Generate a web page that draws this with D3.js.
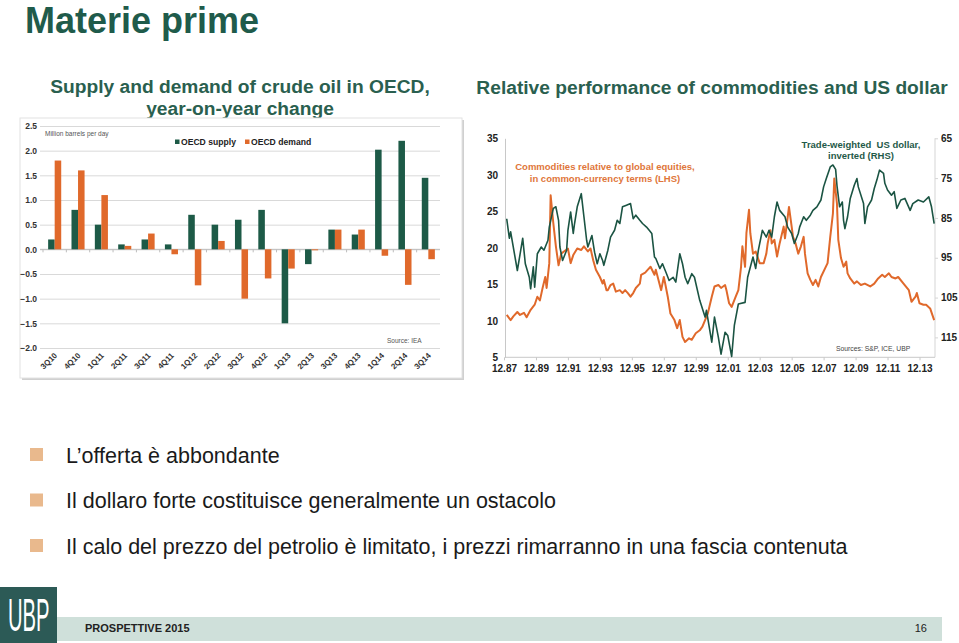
<!DOCTYPE html>
<html><head><meta charset="utf-8">
<script src="https://cdn.jsdelivr.net/npm/d3@7"></script>
<style>
html,body{margin:0;padding:0;background:#fff;}
svg{display:block;font-family:"Liberation Sans",Arial,sans-serif;}
</style></head>
<body>
<svg id="c" width="959" height="643"></svg>
<script>
// ---------- DATA ----------
const quarters = ["3Q10","4Q10","1Q11","2Q11","3Q11","4Q11","1Q12","2Q12","3Q12","4Q12","1Q13","2Q13","3Q13","4Q13","1Q14","2Q14","3Q14"];
const oecdSupply = [0.2,0.8,0.5,0.1,0.2,0.1,0.7,0.5,0.6,0.8,-1.5,-0.3,0.4,0.3,2.02,2.2,1.45];
const oecdDemand = [1.8,1.6,1.1,0.07,0.32,-0.1,-0.73,0.17,-1.0,-0.59,-0.39,-0.02,0.4,0.4,-0.13,-0.72,-0.2];
const barYTicks = [-2,-1.5,-1,-0.5,0,0.5,1,1.5,2,2.5];
const barSeries = ["OECD supply","OECD demand"];

// Commodities relative to global equities (LHS)
const commodities = [
["1988-02",10.8],["1988-05",10.1],["1988-07",10.6],["1988-10",11.2],["1988-12",10.8],["1989-03",11.1],["1989-05",10.5],
["1989-08",11.5],["1989-11",12.2],["1990-01",13.3],["1990-03",12.8],["1990-05",14.5],["1990-07",16.0],["1990-08",14.5],
["1990-10",17.9],["1990-11",27.2],["1991-01",23.4],["1991-03",20.2],["1991-05",17.6],["1991-07",19.2],["1991-09",19.5],
["1991-12",19.9],["1992-02",17.9],["1992-04",19.0],["1992-07",19.9],["1992-10",19.7],["1992-12",20.2],["1993-03",19.5],
["1993-05",19.9],["1993-07",18.3],["1993-09",17.0],["1993-12",16.0],["1994-02",15.1],["1994-03",15.6],["1994-05",14.2],
["1994-06",14.2],["1994-08",14.9],["1994-10",15.1],["1994-12",14.0],["1995-03",14.2],["1995-05",13.8],["1995-07",14.2],
["1995-09",13.8],["1995-11",13.3],["1996-01",13.8],["1996-03",14.5],["1996-06",15.1],["1996-07",16.3],["1996-10",16.6],
["1996-12",17.0],["1997-02",17.4],["1997-05",16.3],["1997-06",17.0],["1997-08",15.6],["1997-10",14.2],["1997-12",16.0],
["1998-01",15.1],["1998-03",13.3],["1998-05",11.0],["1998-08",10.1],["1998-10",9.0],["1998-12",10.1],["1999-02",7.8],
["1999-04",7.1],["1999-07",7.6],["1999-09",7.4],["1999-12",8.3],["2000-03",8.7],["2000-05",9.2],["2000-07",10.1],
["2000-09",11.0],["2000-12",13.3],["2001-02",14.7],["2001-05",14.9],["2001-07",14.5],["2001-10",14.9],["2001-11",14.2],
["2002-01",12.4],["2002-03",11.9],["2002-06",13.3],["2002-08",14.2],["2002-10",17.4],["2002-11",20.2],["2003-01",17.4],
["2003-02",22.0],["2003-04",25.2],["2003-05",22.0],["2003-07",19.2],["2003-09",19.5],["2003-12",17.9],["2004-03",17.9],
["2004-05",19.2],["2004-06",20.6],["2004-08",22.4],["2004-09",20.6],["2004-11",21.1],["2005-01",18.8],["2005-03",20.6],
["2005-06",22.9],["2005-07",21.3],["2005-10",25.6],["2005-12",22.9],["2006-01",21.5],["2006-03",20.6],["2006-05",19.2],
["2006-07",20.2],["2006-09",21.5],["2006-10",19.2],["2006-12",16.5],["2007-02",15.6],["2007-04",14.9],["2007-06",15.6],
["2007-08",14.7],["2007-10",16.0],["2008-03",17.9],["2008-05",21.5],["2008-07",24.7],["2008-08",29.5],["2008-10",26.1],
["2008-11",21.1],["2009-01",18.6],["2009-03",17.4],["2009-05",18.1],["2009-06",16.5],["2009-08",15.8],["2009-11",15.1],
["2010-01",15.4],["2010-04",14.9],["2010-07",15.1],["2010-11",14.7],["2011-02",15.1],["2011-05",15.8],["2011-08",16.3],
["2011-10",16.0],["2012-01",16.5],["2012-03",16.0],["2012-06",15.8],["2012-08",16.0],["2012-12",15.1],["2013-04",14.2],
["2013-06",12.6],["2013-09",13.3],["2013-10",13.8],["2013-12",12.4],["2014-03",12.2],["2014-05",12.2],["2014-08",11.7],
["2014-11",10.1]
];

// Trade-weighted US dollar, inverted (RHS)
const usDollar = [
["1988-02",85.2],["1988-04",90.1],["1988-05",88.5],["1988-10",98.2],["1989-02",90.1],["1989-04",96.5],["1989-07",99.9],
["1989-08",102.8],["1989-10",97.3],["1989-11",102.4],["1990-01",94.0],["1990-04",92.3],["1990-06",93.1],["1990-09",90.6],
["1990-10",87.3],["1991-01",82.6],["1991-03",82.2],["1991-05",85.6],["1991-06",92.3],["1991-08",95.7],["1991-11",93.1],
["1991-12",88.1],["1992-02",83.5],["1992-04",88.9],["1992-05",86.4],["1992-07",82.2],["1992-10",78.9],["1992-12",84.7],
["1993-02",90.6],["1993-03",92.3],["1993-06",89.4],["1993-08",93.6],["1993-10",96.5],["1993-12",94.0],["1994-02",95.7],
["1994-03",96.9],["1994-06",93.1],["1994-08",89.8],["1994-11",88.1],["1995-01",85.6],["1995-03",86.4],["1995-05",82.2],
["1995-08",81.8],["1995-11",81.4],["1996-01",85.2],["1996-03",84.3],["1996-06",85.6],["1996-08",86.4],["1996-11",87.3],
["1997-01",88.1],["1997-03",88.9],["1997-05",94.8],["1997-06",95.2],["1997-09",97.7],["1997-11",96.5],["1998-02",99.0],
["1998-04",100.7],["1998-07",99.9],["1998-09",101.1],["1998-12",94.0],["1999-02",96.5],["1999-04",99.9],["1999-06",101.5],
["1999-09",99.0],["1999-11",99.9],["2000-03",105.7],["2000-07",109.9],["2000-08",108.2],["2000-12",116.2],["2001-02",109.9],
["2001-05",115.0],["2001-07",119.2],["2001-10",113.7],["2001-12",114.5],["2002-03",119.8],["2002-05",112.0],["2002-08",106.6],
["2003-01",106.2],["2003-03",99.9],["2003-07",94.8],["2003-09",97.7],["2003-11",93.1],["2004-02",88.1],["2004-05",89.8],
["2004-07",88.1],["2004-09",89.8],["2004-11",84.7],["2005-01",81.0],["2005-03",83.1],["2005-07",84.7],["2005-09",87.3],
["2005-12",88.9],["2006-02",91.4],["2006-05",88.9],["2006-06",87.3],["2006-09",84.7],["2006-11",85.6],["2007-02",84.3],
["2007-04",83.1],["2007-07",82.2],["2007-10",80.5],["2007-12",77.2],["2008-02",75.1],["2008-05",72.2],["2008-07",71.7],
["2008-09",72.8],["2008-10",76.8],["2008-12",82.2],["2009-02",81.0],["2009-03",85.6],["2009-04",87.7],["2009-06",84.7],
["2009-08",80.1],["2009-11",76.8],["2010-01",75.1],["2010-02",77.2],["2010-06",81.4],["2010-07",86.4],["2010-09",82.2],
["2010-12",80.5],["2011-02",77.6],["2011-04",75.5],["2011-06",73.0],["2011-09",73.8],["2011-10",76.3],["2011-12",78.0],
["2012-03",79.3],["2012-05",78.4],["2012-07",82.6],["2012-10",80.5],["2013-01",80.1],["2013-05",83.1],["2013-07",81.4],
["2013-11",80.5],["2014-03",81.0],["2014-07",79.7],["2014-09",82.2],["2014-11",86.4]
];
const lhsTicks = [5,10,15,20,25,30,35];
const rhsTicks = [65,75,85,95,105,115];
const xTickYears = [1987,1989,1991,1993,1995,1997,1999,2001,2003,2005,2007,2009,2011,2013];

const bullets = [
  "L\u2019offerta è abbondante",
  "Il dollaro forte costituisce generalmente un ostacolo",
  "Il calo del prezzo del petrolio è limitato, i prezzi rimarranno in una fascia contenuta"
];

// ---------- STYLE ----------
const GREEN = "#1d5a47", ORANGE = "#e0692b", TITLE = "#1f5b4b";
const svg = d3.select("#c");

// Page title
svg.append("text").attr("x",25).attr("y",32.6).attr("font-size",36).attr("font-weight","bold")
  .attr("fill",TITLE).text("Materie prime");

// Chart titles
const lt = svg.append("text").attr("text-anchor","middle").attr("font-size",19.2).attr("font-weight","bold").attr("fill","#2a5f4f");
lt.append("tspan").attr("x",240).attr("y",93).text("Supply and demand of crude oil in OECD,");
lt.append("tspan").attr("x",240).attr("y",115).text("year-on-year change");
svg.append("text").attr("x",712).attr("y",94).attr("text-anchor","middle").attr("font-size",19.2)
  .attr("font-weight","bold").attr("fill","#2a5f4f").text("Relative performance of commodities and US dollar");

// ---------- LEFT BAR CHART ----------
svg.append("rect").attr("x",22).attr("y",120).attr("width",442).attr("height",260).attr("fill","#d0d0d0");
svg.append("rect").attr("x",20).attr("y",118).attr("width",442).attr("height",260).attr("fill","#fff").attr("stroke","#e2e2e2");

const yB = d3.scaleLinear().domain([-2,2.5]).range([348,126]);
const x0 = d3.scaleBand().domain(quarters).range([43,440]);
const x1 = d3.scaleBand().domain(barSeries).range([x0.bandwidth()*0.22, x0.bandwidth()*0.78]);

const gy = svg.append("g").attr("transform","translate(40,0)")
  .call(d3.axisLeft(yB).tickValues(barYTicks).tickSize(-400).tickPadding(3).tickFormat(d3.format(".1f")));
gy.select(".domain").remove();
gy.selectAll(".tick line").attr("stroke","#d9d9d9");
gy.selectAll(".tick text").attr("font-size",8.5).attr("font-weight","bold").attr("fill","#333")
  .attr("font-family","Liberation Sans, Arial");

// zero axis
const gx = svg.append("g").attr("transform",`translate(0,${yB(0)})`)
  .call(d3.axisBottom(x0).tickSize(3).tickFormat(""));
gx.select(".domain").attr("stroke","#bdbdbd").attr("d","M40,0H440");
gx.selectAll(".tick").attr("transform",d=>`translate(${x0(d)},0)`);
gx.selectAll(".tick line").attr("stroke","#bdbdbd");

const rows = quarters.map((q,i)=>({q, vals:[oecdSupply[i],oecdDemand[i]]}));
const gBars = svg.append("g").selectAll("g").data(rows).join("g")
  .attr("transform",d=>`translate(${x0(d.q)},0)`);
gBars.selectAll("rect").data(d=>d.vals.map((v,j)=>({s:barSeries[j],v}))).join("rect")
  .attr("x",d=>x1(d.s)).attr("width",x1.bandwidth())
  .attr("y",d=>yB(Math.max(0,d.v))).attr("height",d=>Math.abs(yB(d.v)-yB(0)))
  .attr("fill",d=>d.s===barSeries[0]?GREEN:ORANGE);

// x labels rotated
svg.append("g").selectAll("text").data(quarters).join("text")
  .attr("transform",d=>`translate(${x0(d)+x0.bandwidth()/2+3},356) rotate(-45)`)
  .attr("text-anchor","end").attr("font-size",8).attr("font-weight","bold").attr("fill","#333").text(d=>d);

// legend & notes
svg.append("text").attr("x",45).attr("y",136).attr("font-size",6.5).attr("fill","#555").text("Million barrels per day");
const lg = svg.append("g").selectAll("g").data(barSeries).join("g")
  .attr("transform",(d,i)=>`translate(${i?245:175},0)`);
lg.append("rect").attr("x",0).attr("y",139.5).attr("width",4.5).attr("height",4.5).attr("fill",(d,i)=>i?ORANGE:GREEN);
lg.append("text").attr("x",6).attr("y",145).attr("font-size",8.6).attr("font-weight","bold").attr("fill","#222").text(d=>d);
svg.append("text").attr("x",387).attr("y",343).attr("font-size",6.5).attr("fill","#555").text("Source: IEA");

// ---------- RIGHT LINE CHART ----------
const parse = d3.timeParse("%Y-%m");
const xT = d3.scaleTime().domain([new Date(1987,11,1), new Date(2013,11,1)]).range([504,919.5]);
const yL = d3.scaleLinear().domain([5,35]).range([357.3,138.3]);
const yR = d3.scaleLinear().domain([65,120]).range([138.3,357.3]);

const gl = svg.append("g").attr("transform","translate(505,0)")
  .call(d3.axisLeft(yL).tickValues(lhsTicks).tickSize(0).tickPadding(7));
gl.select(".domain").attr("stroke","#c8c8c8");
gl.selectAll(".tick text").attr("font-size",10).attr("font-weight","bold").attr("fill","#222").attr("font-family","Liberation Sans, Arial");

const gr = svg.append("g").attr("transform","translate(935,0)")
  .call(d3.axisRight(yR).tickValues(rhsTicks).tickSize(3).tickPadding(3));
gr.select(".domain").attr("stroke","#d5d5d5").attr("d","M0,138.3V357.3");
gr.selectAll(".tick line").attr("stroke","#d5d5d5");
gr.selectAll(".tick text").attr("font-size",10).attr("font-weight","bold").attr("fill","#222").attr("font-family","Liberation Sans, Arial");

const gb = svg.append("g").attr("transform","translate(0,357.3)")
  .call(d3.axisBottom(xT).tickValues(xTickYears.map(y=>new Date(y,11,1))).tickSize(3).tickPadding(5)
    .tickFormat(d3.timeFormat("%m.%y")));
gb.select(".domain").attr("stroke","#c8c8c8").attr("d","M505,0H935");
gb.selectAll(".tick line").attr("stroke","#c8c8c8");
gb.selectAll(".tick text").attr("font-size",10).attr("font-weight","bold").attr("fill","#222").attr("font-family","Liberation Sans, Arial");

const comData = commodities.map(d=>({date:parse(d[0]), v:d[1]}));
const usdData = usDollar.map(d=>({date:parse(d[0]), v:d[1]}));

svg.append("path").datum(comData).attr("fill","none").attr("stroke",ORANGE).attr("stroke-width",2)
  .attr("stroke-linejoin","round").attr("d",d3.line().x(d=>xT(d.date)).y(d=>yL(d.v)));
svg.append("path").datum(usdData).attr("fill","none").attr("stroke","#1b5443").attr("stroke-width",1.6)
  .attr("stroke-linejoin","round").attr("d",d3.line().x(d=>xT(d.date)).y(d=>yR(d.v)));

const a1 = svg.append("text").attr("text-anchor","middle").attr("font-size",9.5).attr("font-weight","bold").attr("fill","#e0763a");
a1.append("tspan").attr("x",605).attr("y",170).text("Commodities relative to global equities,");
a1.append("tspan").attr("x",605).attr("y",182).text("in common-currency terms (LHS)");
const a2 = svg.append("text").attr("text-anchor","middle").attr("font-size",9.5).attr("font-weight","bold").attr("fill","#1f5a48");
a2.append("tspan").attr("x",861).attr("y",148).attr("xml:space","preserve").text("Trade-weighted  US dollar,");
a2.append("tspan").attr("x",861).attr("y",159).text("inverted (RHS)");
svg.append("text").attr("x",836).attr("y",351).attr("font-size",6.8).attr("fill","#444").text("Sources: S&P, ICE, UBP");

// ---------- BULLETS ----------
const by = [455,500.5,546];
const gbul = svg.append("g").selectAll("g").data(bullets).join("g");
gbul.append("rect").attr("x",30).attr("y",(d,i)=>by[i]-7).attr("width",13).attr("height",13).attr("fill","#e9b98d");
gbul.append("text").attr("x",66).attr("y",(d,i)=>by[i]+7.5).attr("font-size",21.5).attr("fill","#1a1a1a").text(d=>d);

// ---------- FOOTER ----------
svg.append("rect").attr("x",0).attr("y",587).attr("width",57).attr("height",56).attr("fill","#2c5a56");
svg.append("text").attr("transform","translate(8,631) scale(0.44,1)").attr("font-size",46).attr("fill","#fff").text("UBP");
svg.append("rect").attr("x",57).attr("y",617).attr("width",885).attr("height",24).attr("fill","#cfe0da");
svg.append("text").attr("x",85).attr("y",632).attr("font-size",11).attr("font-weight","bold").attr("fill","#222").text("PROSPETTIVE 2015");
svg.append("text").attr("x",927).attr("y",632).attr("text-anchor","end").attr("font-size",11).attr("fill","#222").text("16");
</script>
</body></html>
